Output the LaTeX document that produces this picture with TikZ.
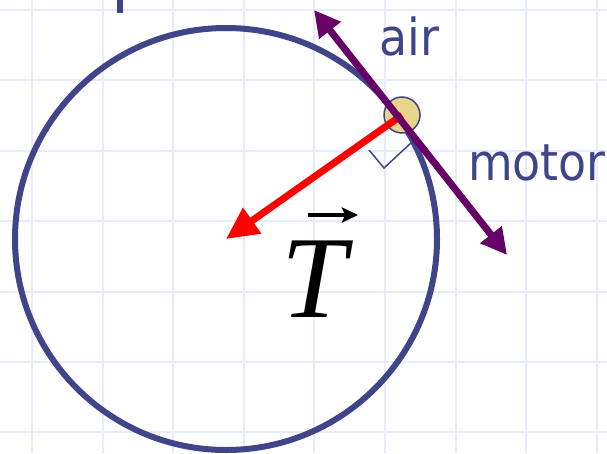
\documentclass[tikz,border=0pt]{standalone}
\usepackage{fontspec}
\setmainfont{Liberation Serif}
\newfontfamily\labelfont{DejaVu Sans Condensed}
\usetikzlibrary{arrows.meta}
\definecolor{gridc}{RGB}{230,236,250}
\definecolor{navy}{RGB}{64,69,138}
\definecolor{plum}{RGB}{102,0,102}
\definecolor{ballc}{RGB}{232,212,138}
\tikzset{
  gridline/.style={draw=gridc, line width=2pt},
  wheel/.style={draw=navy, line width=6pt},
  ballnode/.style={circle, draw=navy, line width=1.5pt, fill=ballc, minimum size=36pt, inner sep=0pt},
  pullarrow/.style={draw=red, line width=7pt, -{Triangle[length=32pt,width=30pt]}},
  velarrow/.style={draw=plum, line width=7pt, {Triangle[length=26pt,width=26pt]}-{Triangle[length=26pt,width=26pt]}},
  rightmark/.style={draw=navy, line width=1.5pt},
  lbl/.style={text=navy, font=\labelfont\fontsize{51}{51}\selectfont, anchor=base west, inner sep=0pt},
  vecarrow/.style={line width=3.4pt, -{Stealth[length=16pt,width=15pt,inset=3pt]}},
}
\begin{document}
\begin{tikzpicture}[x=1pt,y=-1pt]
\useasboundingbox (0,0) rectangle (607,453);
\fill[white] (0,0) rectangle (607,453);
% grid
\foreach \i in {0,...,8} \draw[gridline] ({32+70.6*\i},0) -- ({32+70.6*\i},453);
\foreach \j in {0,...,6} \draw[gridline] (0,{10+70.4*\j}) -- (607,{10+70.4*\j});
% partial title stroke
\fill[navy] (117,0) rectangle (123,13);
% wheel
\coordinate (O) at (226,239);
\draw[wheel] (O) circle[radius=211pt];
% ball
\node[ballnode] (P) at (402,115) {};
% right-angle mark
\coordinate (m1) at (369,150);
\coordinate (m2) at (384,168);
\coordinate (m3) at (412,142);
\draw[rightmark] (m1) -- (m2) -- (m3);
% pull toward centre
\draw[pullarrow] (P.center) -- (O);
% tangent velocity
\coordinate (A) at (314,10);
\coordinate (B) at (507,255);
\draw[velarrow] (A) -- (B);
% labels
\node[lbl] (air) at (379,55) {air};
\node[lbl] (motor) at (468,180) {motor};
% vector T
\node[anchor=base west, inner sep=0pt, font=\fontsize{117}{117}\selectfont\itshape] (T) at (281,317) {T};
\coordinate (va) at (308,215);
\coordinate (vb) at (358,215);
\draw[vecarrow] (va) -- (vb);
\end{tikzpicture}
\end{document}
